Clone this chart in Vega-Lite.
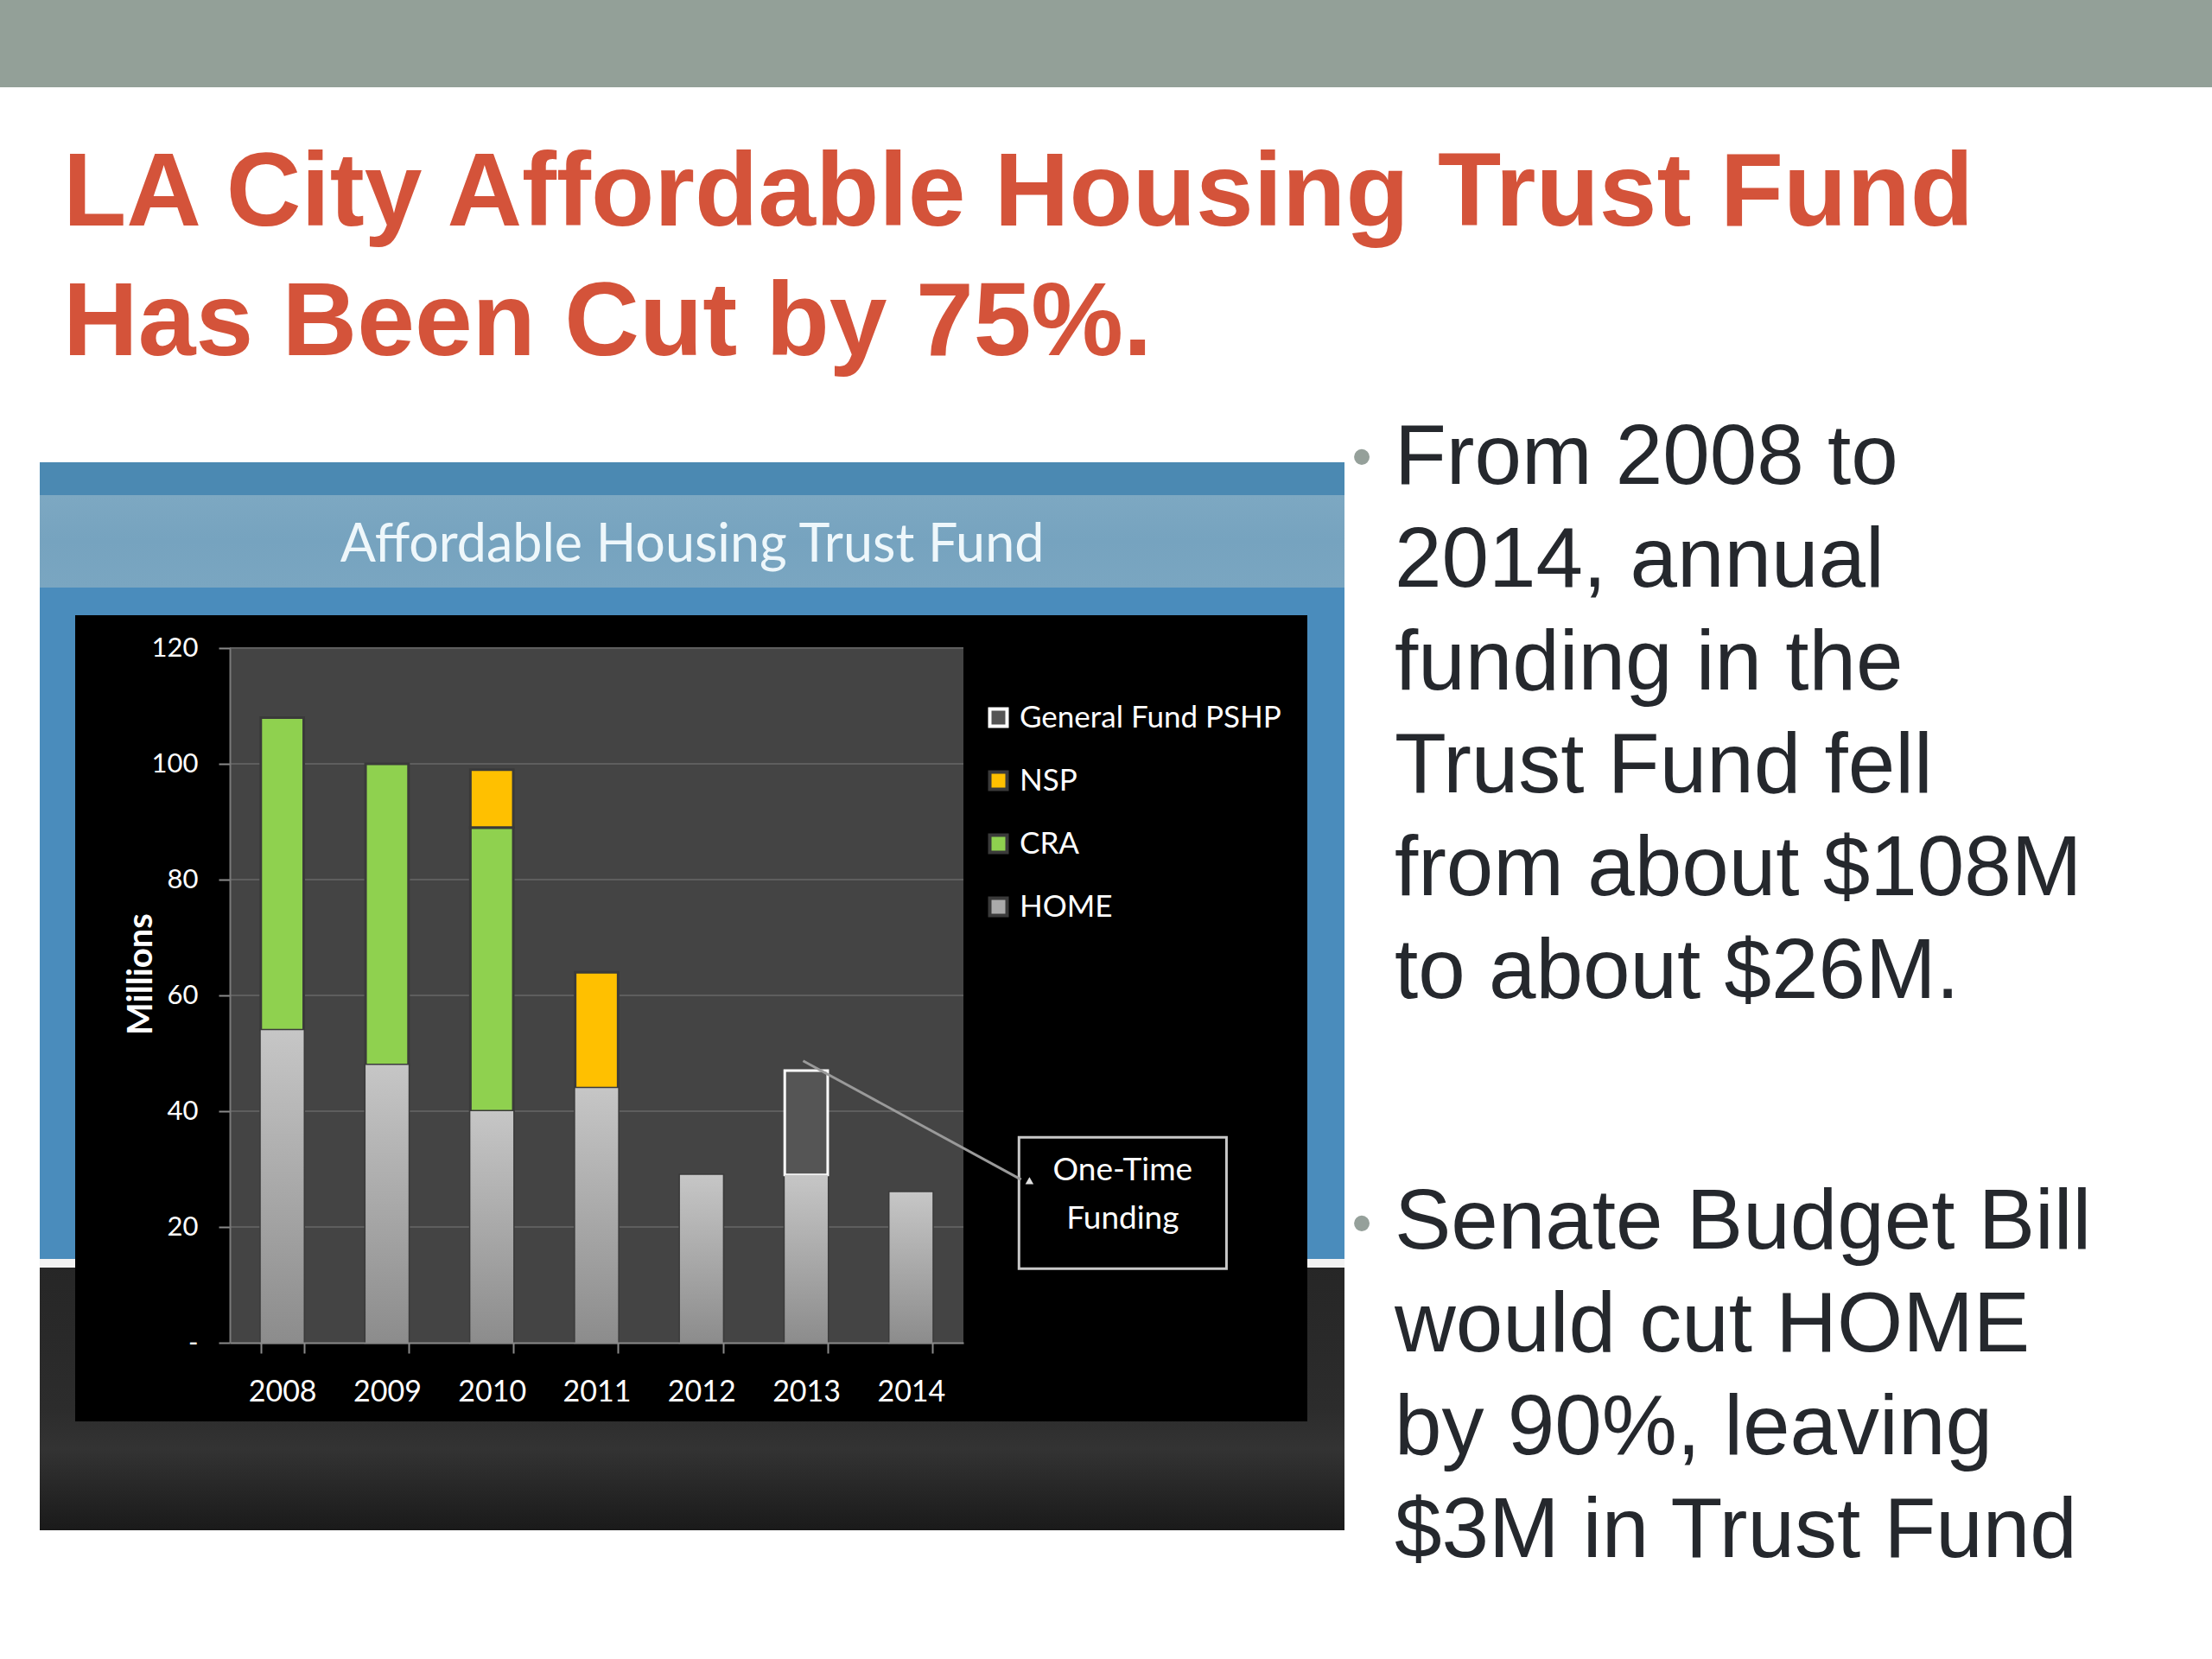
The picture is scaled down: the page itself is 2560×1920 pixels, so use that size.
{
  "$schema": "https://vega.github.io/schema/vega-lite/v6.json",
  "width": 849,
  "height": 804,
  "autosize": {"type": "none"},
  "padding": {"left": 266, "top": 750, "right": 1445, "bottom": 366},
  "background": "#ffffff",
  "config": {"view": {"stroke": null}},
  "datasets": {
    "series_info": [
      {"series": "HOME", "rank": 1},
      {"series": "CRA", "rank": 2},
      {"series": "NSP", "rank": 3},
      {"series": "General Fund PSHP", "rank": 4}
    ]
  },
  "layer": [
    {
      "data": {"values": [{}]},
      "layer": [
        {"mark": {"type": "rect", "color": "#93a098"},
         "encoding": {"x": {"datum": -2.19317, "type": "quantitative", "scale": {"domain": [0, 7], "nice": false, "zero": false}, "axis": null}, "x2": {"datum": 18.91402}, "y": {"datum": 231.94, "type": "quantitative"}, "y2": {"datum": 216.866}}},
        {"mark": {"type": "rect", "color": {"gradient": "linear", "x1": 0, "y1": 0, "x2": 0, "y2": 1, "stops": [{"offset": 0, "color": "#262626"}, {"offset": 0.55, "color": "#2c2c2c"}, {"offset": 0.7, "color": "#333333"}, {"offset": 1, "color": "#1a1a1a"}]}},
         "encoding": {"x": {"datum": -1.8139, "type": "quantitative", "scale": {"domain": [0, 7], "nice": false, "zero": false}, "axis": null}, "x2": {"datum": 10.63604}, "y": {"datum": 14.478, "type": "quantitative"}, "y2": {"datum": -32.388}}},
        {"mark": {"type": "rect", "color": "#4a8cbc"},
         "encoding": {"x": {"datum": -1.8139, "type": "quantitative", "scale": {"domain": [0, 7], "nice": false, "zero": false}, "axis": null}, "x2": {"datum": 10.63604}, "y": {"datum": 152.09, "type": "quantitative"}, "y2": {"datum": 14.478}}},
        {"mark": {"type": "rect", "color": "#4b89b2"},
         "encoding": {"x": {"datum": -1.8139, "type": "quantitative", "scale": {"domain": [0, 7], "nice": false, "zero": false}, "axis": null}, "x2": {"datum": 10.63604}, "y": {"datum": 152.09, "type": "quantitative"}, "y2": {"datum": 146.418}}},
        {"mark": {"type": "rect", "color": {"gradient": "linear", "x1": 0, "y1": 0, "x2": 0, "y2": 1, "stops": [{"offset": 0, "color": "#7da8c2"}, {"offset": 0.5, "color": "#76a3bf"}, {"offset": 1, "color": "#7aa6c1"}]}},
         "encoding": {"x": {"datum": -1.8139, "type": "quantitative", "scale": {"domain": [0, 7], "nice": false, "zero": false}, "axis": null}, "x2": {"datum": 10.63604}, "y": {"datum": 146.418, "type": "quantitative"}, "y2": {"datum": 130.448}}},
        {"mark": {"type": "rect", "color": "#f2f2f2"},
         "encoding": {"x": {"datum": -1.8139, "type": "quantitative", "scale": {"domain": [0, 7], "nice": false, "zero": false}, "axis": null}, "x2": {"datum": 10.63604}, "y": {"datum": 14.478, "type": "quantitative"}, "y2": {"datum": 12.985}}},
        {"mark": {"type": "rect", "color": "#000000"},
         "encoding": {"x": {"datum": -1.47585, "type": "quantitative", "scale": {"domain": [0, 7], "nice": false, "zero": false}, "axis": null}, "x2": {"datum": 10.2815}, "y": {"datum": 125.672, "type": "quantitative"}, "y2": {"datum": -13.582}}},
        {"mark": {"type": "rect", "color": "#444444"},
         "encoding": {"x": {"datum": 0, "type": "quantitative", "scale": {"domain": [0, 7], "nice": false, "zero": false}, "axis": null}, "x2": {"datum": 7}, "y": {"datum": 120, "type": "quantitative"}, "y2": {"datum": 0}}}
      ]
    },
    {
      "data": {"values": [
        {"year": "2008", "series": "HOME", "value": 54},
        {"year": "2008", "series": "CRA", "value": 54},
        {"year": "2009", "series": "HOME", "value": 48},
        {"year": "2009", "series": "CRA", "value": 52},
        {"year": "2010", "series": "HOME", "value": 40},
        {"year": "2010", "series": "CRA", "value": 49},
        {"year": "2010", "series": "NSP", "value": 10},
        {"year": "2011", "series": "HOME", "value": 44},
        {"year": "2011", "series": "NSP", "value": 20},
        {"year": "2012", "series": "HOME", "value": 29},
        {"year": "2013", "series": "HOME", "value": 29},
        {"year": "2013", "series": "General Fund PSHP", "value": 18},
        {"year": "2014", "series": "HOME", "value": 26}
      ]},
      "layer": [
        {"data": {"values": [{"grid": 20}, {"grid": 40}, {"grid": 60}, {"grid": 80}, {"grid": 100}, {"grid": 120}]},
         "mark": {"type": "rule", "color": "#5e5e5e", "strokeWidth": 2},
         "encoding": {"y": {"field": "grid", "type": "quantitative", "title": "Millions"}}},
        {"transform": [{"lookup": "series", "from": {"data": {"name": "series_info"}, "key": "series", "fields": ["rank"]}}],
         "mark": {"type": "bar", "strokeWidth": 3},
         "encoding": {
           "x": {"field": "year", "type": "ordinal", "scale": {"paddingInner": 0.59, "paddingOuter": 0.295},
                 "axis": {"title": null, "zindex": 1, "labelAngle": 0, "labelColor": "#ffffff", "labelFont": "Lato", "labelFontSize": 34, "labelPadding": 28, "tickBand": "extent", "tickSize": 12, "tickColor": "#8a8a8a", "tickWidth": 2, "domainColor": "#8a8a8a", "domainWidth": 2, "grid": false}},
           "y": {"field": "value", "type": "quantitative", "stack": "zero", "title": "Millions", "scale": {"domain": [0, 120], "nice": false},
                 "axis": {"title": "Millions", "zindex": 1, "grid": false, "titleColor": "#ffffff", "titleFont": "Lato", "titleFontSize": 40, "titleFontWeight": "bold", "titleX": -103, "titleY": 377, "titleAngle": 270, "titleAlign": "center", "titleBaseline": "middle", "values": [0, 20, 40, 60, 80, 100, 120], "labelExpr": "datum.value === 0 ? '-' : datum.label", "labelColor": "#ffffff", "labelFont": "Lato", "labelFontSize": 31, "labelPadding": 24, "tickSize": 13, "tickColor": "#8a8a8a", "tickWidth": 2, "domainColor": "#7a7a7a", "domainWidth": 2}},
           "order": {"field": "rank", "type": "quantitative", "sort": "ascending"},
           "fill": {"field": "series", "type": "nominal",
                    "scale": {"domain": ["General Fund PSHP", "NSP", "CRA", "HOME"], "range": ["#555555", "#ffc000", "#8fd14f", "#aaaaaa"]},
                    "legend": {"orient": "none", "legendX": 872, "legendY": 63, "title": null, "labelColor": "#ffffff", "labelFont": "Lato", "labelFontSize": 35, "labelLimit": 0, "symbolType": "square", "symbolSize": 400, "symbolStrokeWidth": 4, "rowPadding": 36, "labelOffset": 7}},
           "stroke": {"field": "series", "type": "nominal",
                      "scale": {"domain": ["General Fund PSHP", "NSP", "CRA", "HOME"], "range": ["#ffffff", "#3a3a3a", "#3a3a3a", "#3a3a3a"]},
                      "legend": {"orient": "none", "legendX": 872, "legendY": 63, "title": null, "labelColor": "#ffffff", "labelFont": "Lato", "labelFontSize": 35, "labelLimit": 0, "symbolType": "square", "symbolSize": 400, "symbolStrokeWidth": 4, "rowPadding": 36, "labelOffset": 7}}
         }},
        {"transform": [{"filter": "datum.series === 'HOME'"}],
         "mark": {"type": "bar", "color": {"gradient": "linear", "x1": 0, "y1": 0, "x2": 0, "y2": 1, "stops": [{"offset": 0, "color": "#c6c6c6"}, {"offset": 1, "color": "#8c8c8c"}]}},
         "encoding": {
           "x": {"field": "year", "type": "ordinal"},
           "y": {"field": "value", "type": "quantitative", "stack": null, "title": "Millions"}
         }}
      ]
    },
    {
      "data": {"values": [{}]},
      "layer": [
        {"mark": {"type": "rect", "fill": "#000000", "stroke": "#c8c8c8", "strokeWidth": 3},
         "encoding": {"x": {"datum": 7.53, "type": "quantitative", "scale": {"domain": [0, 7], "nice": false, "zero": false}, "axis": null}, "x2": {"datum": 9.51}, "y": {"datum": 35.5, "type": "quantitative", "title": "Millions"}, "y2": {"datum": 12.8}}},
        {"mark": {"type": "rule", "color": "#9a9a9a", "strokeWidth": 3},
         "encoding": {"x": {"datum": 5.47, "type": "quantitative", "scale": {"domain": [0, 7], "nice": false, "zero": false}, "axis": null}, "x2": {"datum": 7.55}, "y": {"datum": 48.7, "type": "quantitative", "title": "Millions"}, "y2": {"datum": 28.2}}},
        {"mark": {"type": "point", "shape": "triangle-up", "filled": true, "color": "#e0e0e0", "size": 90, "opacity": 1},
         "encoding": {"x": {"datum": 7.63, "type": "quantitative", "scale": {"domain": [0, 7], "nice": false, "zero": false}, "axis": null}, "y": {"datum": 28.0, "type": "quantitative", "title": "Millions"}}},
        {"mark": {"type": "text", "text": ["One-Time", "Funding"], "font": "Lato", "fontSize": 37, "color": "#ffffff", "align": "center", "baseline": "middle", "lineHeight": 56},
         "encoding": {"x": {"datum": 8.52, "type": "quantitative", "scale": {"domain": [0, 7], "nice": false, "zero": false}, "axis": null}, "y": {"datum": 29.63, "type": "quantitative", "title": "Millions"}}},
        {"mark": {"type": "text", "text": "Affordable Housing Trust Fund", "font": "Lato", "fontSize": 61, "color": "#eef7fb", "align": "center", "baseline": "middle"},
         "encoding": {"x": {"datum": 4.41107, "type": "quantitative", "scale": {"domain": [0, 7], "nice": false, "zero": false}, "axis": null}, "y": {"datum": 137.612, "type": "quantitative", "title": "Millions"}}},
        {"mark": {"type": "text", "text": ["LA City Affordable Housing Trust Fund", "Has Been Cut by 75%."], "font": "Liberation Sans", "fontWeight": "bold", "fontSize": 120, "color": "#d4533a", "align": "left", "baseline": "alphabetic", "lineHeight": 150},
         "encoding": {"x": {"datum": -1.59128, "type": "quantitative", "scale": {"domain": [0, 7], "nice": false, "zero": false}, "axis": null}, "y": {"datum": 192.985, "type": "quantitative", "title": "Millions"}}},
        {"mark": {"type": "text", "text": ["From 2008 to", "2014, annual", "funding in the", "Trust Fund fell", "from about $108M", "to about $26M."], "font": "Liberation Sans", "fontSize": 98, "color": "#25282d", "align": "left", "baseline": "alphabetic", "lineHeight": 119},
         "encoding": {"x": {"datum": 11.11425, "type": "quantitative", "scale": {"domain": [0, 7], "nice": false, "zero": false}, "axis": null}, "y": {"datum": 148.358, "type": "quantitative", "title": "Millions"}}},
        {"mark": {"type": "text", "text": ["Senate Budget Bill", "would cut HOME", "by 90%, leaving", "$3M in Trust Fund"], "font": "Liberation Sans", "fontSize": 98, "color": "#25282d", "align": "left", "baseline": "alphabetic", "lineHeight": 119},
         "encoding": {"x": {"datum": 11.11425, "type": "quantitative", "scale": {"domain": [0, 7], "nice": false, "zero": false}, "axis": null}, "y": {"datum": 16.269, "type": "quantitative", "title": "Millions"}}},
        {"mark": {"type": "text", "text": "•", "font": "Liberation Sans", "fontSize": 66, "color": "#95a09a", "align": "center", "baseline": "middle"},
         "encoding": {"x": {"datum": 10.80094, "type": "quantitative", "scale": {"domain": [0, 7], "nice": false, "zero": false}, "axis": null}, "y": {"datum": 152.687, "type": "quantitative", "title": "Millions"}}},
        {"mark": {"type": "text", "text": "•", "font": "Liberation Sans", "fontSize": 66, "color": "#95a09a", "align": "center", "baseline": "middle"},
         "encoding": {"x": {"datum": 10.80094, "type": "quantitative", "scale": {"domain": [0, 7], "nice": false, "zero": false}, "axis": null}, "y": {"datum": 20.299, "type": "quantitative", "title": "Millions"}}}
      ]
    }
  ],
  "resolve": {"scale": {"x": "independent"}}
}
